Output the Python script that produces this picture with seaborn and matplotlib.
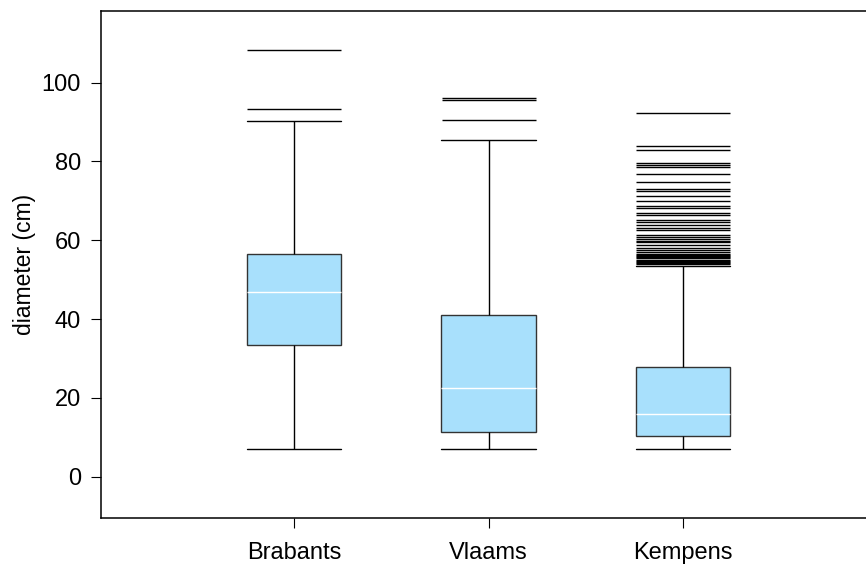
import matplotlib
matplotlib.use("Agg")
import matplotlib.pyplot as plt
import seaborn as sns
import pandas as pd

categories = ["Brabants", "Vlaams", "Kempens"]
whisker_low = [7.0, 7.0, 7.0]
q1 = [33.3, 11.4, 10.4]
median = [46.9, 22.6, 15.9]
q3 = [56.5, 41.1, 27.8]
whisker_high = [90.2, 85.4, 53.4]

outliers_brabants = [93.2, 108.2]
outliers_vlaams = [90.6, 95.5, 96.1]
outliers_kempens = [92.2, 84.0, 83.0, 79.6, 79.2, 78.7, 76.9, 74.7, 73.1, 72.6,
                    71.2, 69.9, 68.8, 68.2, 67.0, 66.3, 65.1, 64.6, 64.0, 63.1,
                    62.5, 61.4, 60.9, 60.2, 59.8, 59.5, 58.9, 58.1, 57.6, 56.9,
                    56.6, 56.3, 56.0, 55.7, 55.4, 55.1, 54.8, 54.5, 54.2, 53.9]

# five-number summaries as long data (quartiles reproduce exactly with 5 points)
rows = []
for i, c in enumerate(categories):
    for v in (whisker_low[i], q1[i], median[i], q3[i], whisker_high[i]):
        rows.append({"group": c, "diameter": v})
box_df = pd.DataFrame(rows)

out_rows = []
for c, vals in zip(categories, [outliers_brabants, outliers_vlaams, outliers_kempens]):
    for v in vals:
        out_rows.append({"group": c, "diameter": v})
out_df = pd.DataFrame(out_rows)

sns.set_theme(style="white")
plt.rcParams["font.family"] = ["Liberation Sans", "DejaVu Sans"]
plt.rcParams.update({"text.color": "black", "axes.labelcolor": "black",
                     "xtick.color": "black", "ytick.color": "black"})

fig = plt.figure(figsize=(8.66, 5.66), dpi=100)
ax = fig.add_axes([101 / 866, 1 - 518 / 566, 1 - 101 / 866, (518 - 11) / 566])

box_w = 0.485
sns.boxplot(data=box_df, x="group", y="diameter", order=categories, ax=ax,
            whis=(0, 100), width=box_w, showfliers=False,
            color="#A8E0FC", saturation=1, linewidth=1, linecolor="#333333",
            capwidths=box_w,
            medianprops=dict(color="white", linewidth=1),
            whiskerprops=dict(color="black", linewidth=1),
            capprops=dict(color="black", linewidth=1))

marker_pts = box_w * 194 * 72 / 100
sns.stripplot(data=out_df, x="group", y="diameter", order=categories, ax=ax,
              jitter=False, marker="_", size=marker_pts, color="black",
              linewidth=1)

ax.set_xlim(-0.995, 2.943)
ax.set_ylim(-10.5, 118.2)
ax.set_yticks([0, 20, 40, 60, 80, 100])
ax.set_xlabel("")
ax.set_ylabel("diameter (cm)", fontsize=16.5, labelpad=4)
ax.tick_params(axis="both", which="major", direction="out", length=7.5, width=0.8,
               labelsize=17, color="black", labelcolor="black", left=True, bottom=True)
ax.tick_params(axis="x", pad=10)
ax.tick_params(axis="y", pad=7)
for s in ["left", "top", "bottom"]:
    ax.spines[s].set_color("black")
    ax.spines[s].set_linewidth(1.1)
ax.spines["right"].set_visible(False)

fig.savefig("out.png", dpi=100)
